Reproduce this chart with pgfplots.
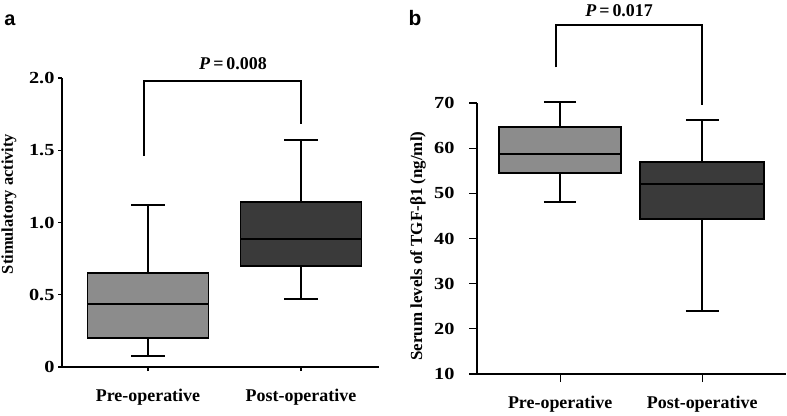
\documentclass[border=0pt]{standalone}
\usepackage{pgfplots}
\pgfplotsset{compat=1.18}
\usepgfplotslibrary{statistics}
\usepackage{fontspec}
\setmainfont{Liberation Serif}
\setsansfont{Liberation Sans}
\newfontfamily\tickfont{Liberation Serif}[FakeStretch=1.2]
\definecolor{preg}{HTML}{8C8C8C}
\definecolor{postg}{HTML}{3A3A3A}
\begin{document}
\begin{tikzpicture}[x=1bp,y=1bp]
\path[use as bounding box] (0,0) rectangle (787,415);
\pgfplotsset{
 myax/.style={
  scale only axis, axis x line*=bottom, axis y line*=left,
  axis line style={-, line width=1.8bp},
  xtick={1,2}, xticklabels={Pre-operative,Post-operative},
  tick align=outside, major tick length=4bp, tick style={line width=1.2bp, black},
  clip=false,
  /pgf/number format/assume math mode=true,
  yticklabel style={font=\tickfont\bfseries\fontsize{17}{17}\selectfont},
  xticklabel style={font=\bfseries\fontsize{18}{18}\selectfont},
  boxplot/draw direction=y,
 },
 bx/.style={draw=black, line width=1.8bp, fill=#1, solid, mark=none},
}
\node[font=\sffamily\bfseries\fontsize{20}{20}\selectfont] at (10,395) {a};
\node[font=\sffamily\bfseries\fontsize{21}{21}\selectfont] at (415,397) {b};

\begin{axis}[myax, at={(62bp,48bp)}, anchor=south west, width=317bp, height=289bp,
  xmin=0.438, xmax=2.51, ymin=0, ymax=2,
  ytick={0,0.5,1,1.5,2}, yticklabels={0,0.5,1.0,1.5,2.0},
  xticklabel style={yshift=-15bp},
  ylabel={Stimulatory activity},
  every axis y label/.style={at={(axis description cs:-0.167,0.564)}, rotate=90, anchor=center, font=\bfseries\fontsize{16.5}{17}\selectfont},
  ]
\addplot+[bx=preg, boxplot prepared={draw position=1, median=0.436, lower quartile=0.20, upper quartile=0.65, lower whisker=0.076, upper whisker=1.12, box extend=0.79, whisker extend=0.22}] coordinates {};
\addplot+[bx=postg, boxplot prepared={draw position=2, median=0.886, lower quartile=0.70, upper quartile=1.14, lower whisker=0.47, upper whisker=1.57, box extend=0.79, whisker extend=0.22}] coordinates {};
\draw[line width=1.8bp] (axis cs:0.974,1.46) |- (axis cs:2.0,1.98) -- (axis cs:2.0,1.68);
\node[anchor=base, font=\bfseries\fontsize{18}{18}\selectfont] at (axis cs:1.556,2.062) {\textit{P}\,=\,0.008};
\end{axis}

\begin{axis}[myax, at={(477bp,41bp)}, anchor=south west, width=309bp, height=271bp,
  xmin=0.415, xmax=2.59, ymin=10, ymax=70,
  ytick={10,20,30,40,50,60,70},
  major tick length=8bp,
  xticklabel style={yshift=-11bp},
  yticklabel style={xshift=-11bp},
  ylabel={Serum levels of TGF-β1 (ng/ml)},
  every axis y label/.style={at={(axis description cs:-0.191,0.472)}, rotate=90, anchor=center, font=\bfseries\fontsize{17}{17}\selectfont},
  ]
\addplot+[bx=preg, boxplot prepared={draw position=1, median=58.7, lower quartile=54.5, upper quartile=64.6, lower whisker=48.1, upper whisker=70.2, box extend=0.86, whisker extend=0.23}] coordinates {};
\addplot+[bx=postg, boxplot prepared={draw position=2, median=52.0, lower quartile=44.3, upper quartile=56.9, lower whisker=24.0, upper whisker=66.2, box extend=0.87, whisker extend=0.23}] coordinates {};
\draw[line width=1.8bp] (axis cs:0.972,77.9) |- (axis cs:2.0,87.2) -- (axis cs:2.0,69.5);
\node[anchor=base, font=\bfseries\fontsize{18}{18}\selectfont] at (axis cs:1.415,89.2) {\textit{P}\,=\,0.017};
\end{axis}
\end{tikzpicture}
\end{document}
